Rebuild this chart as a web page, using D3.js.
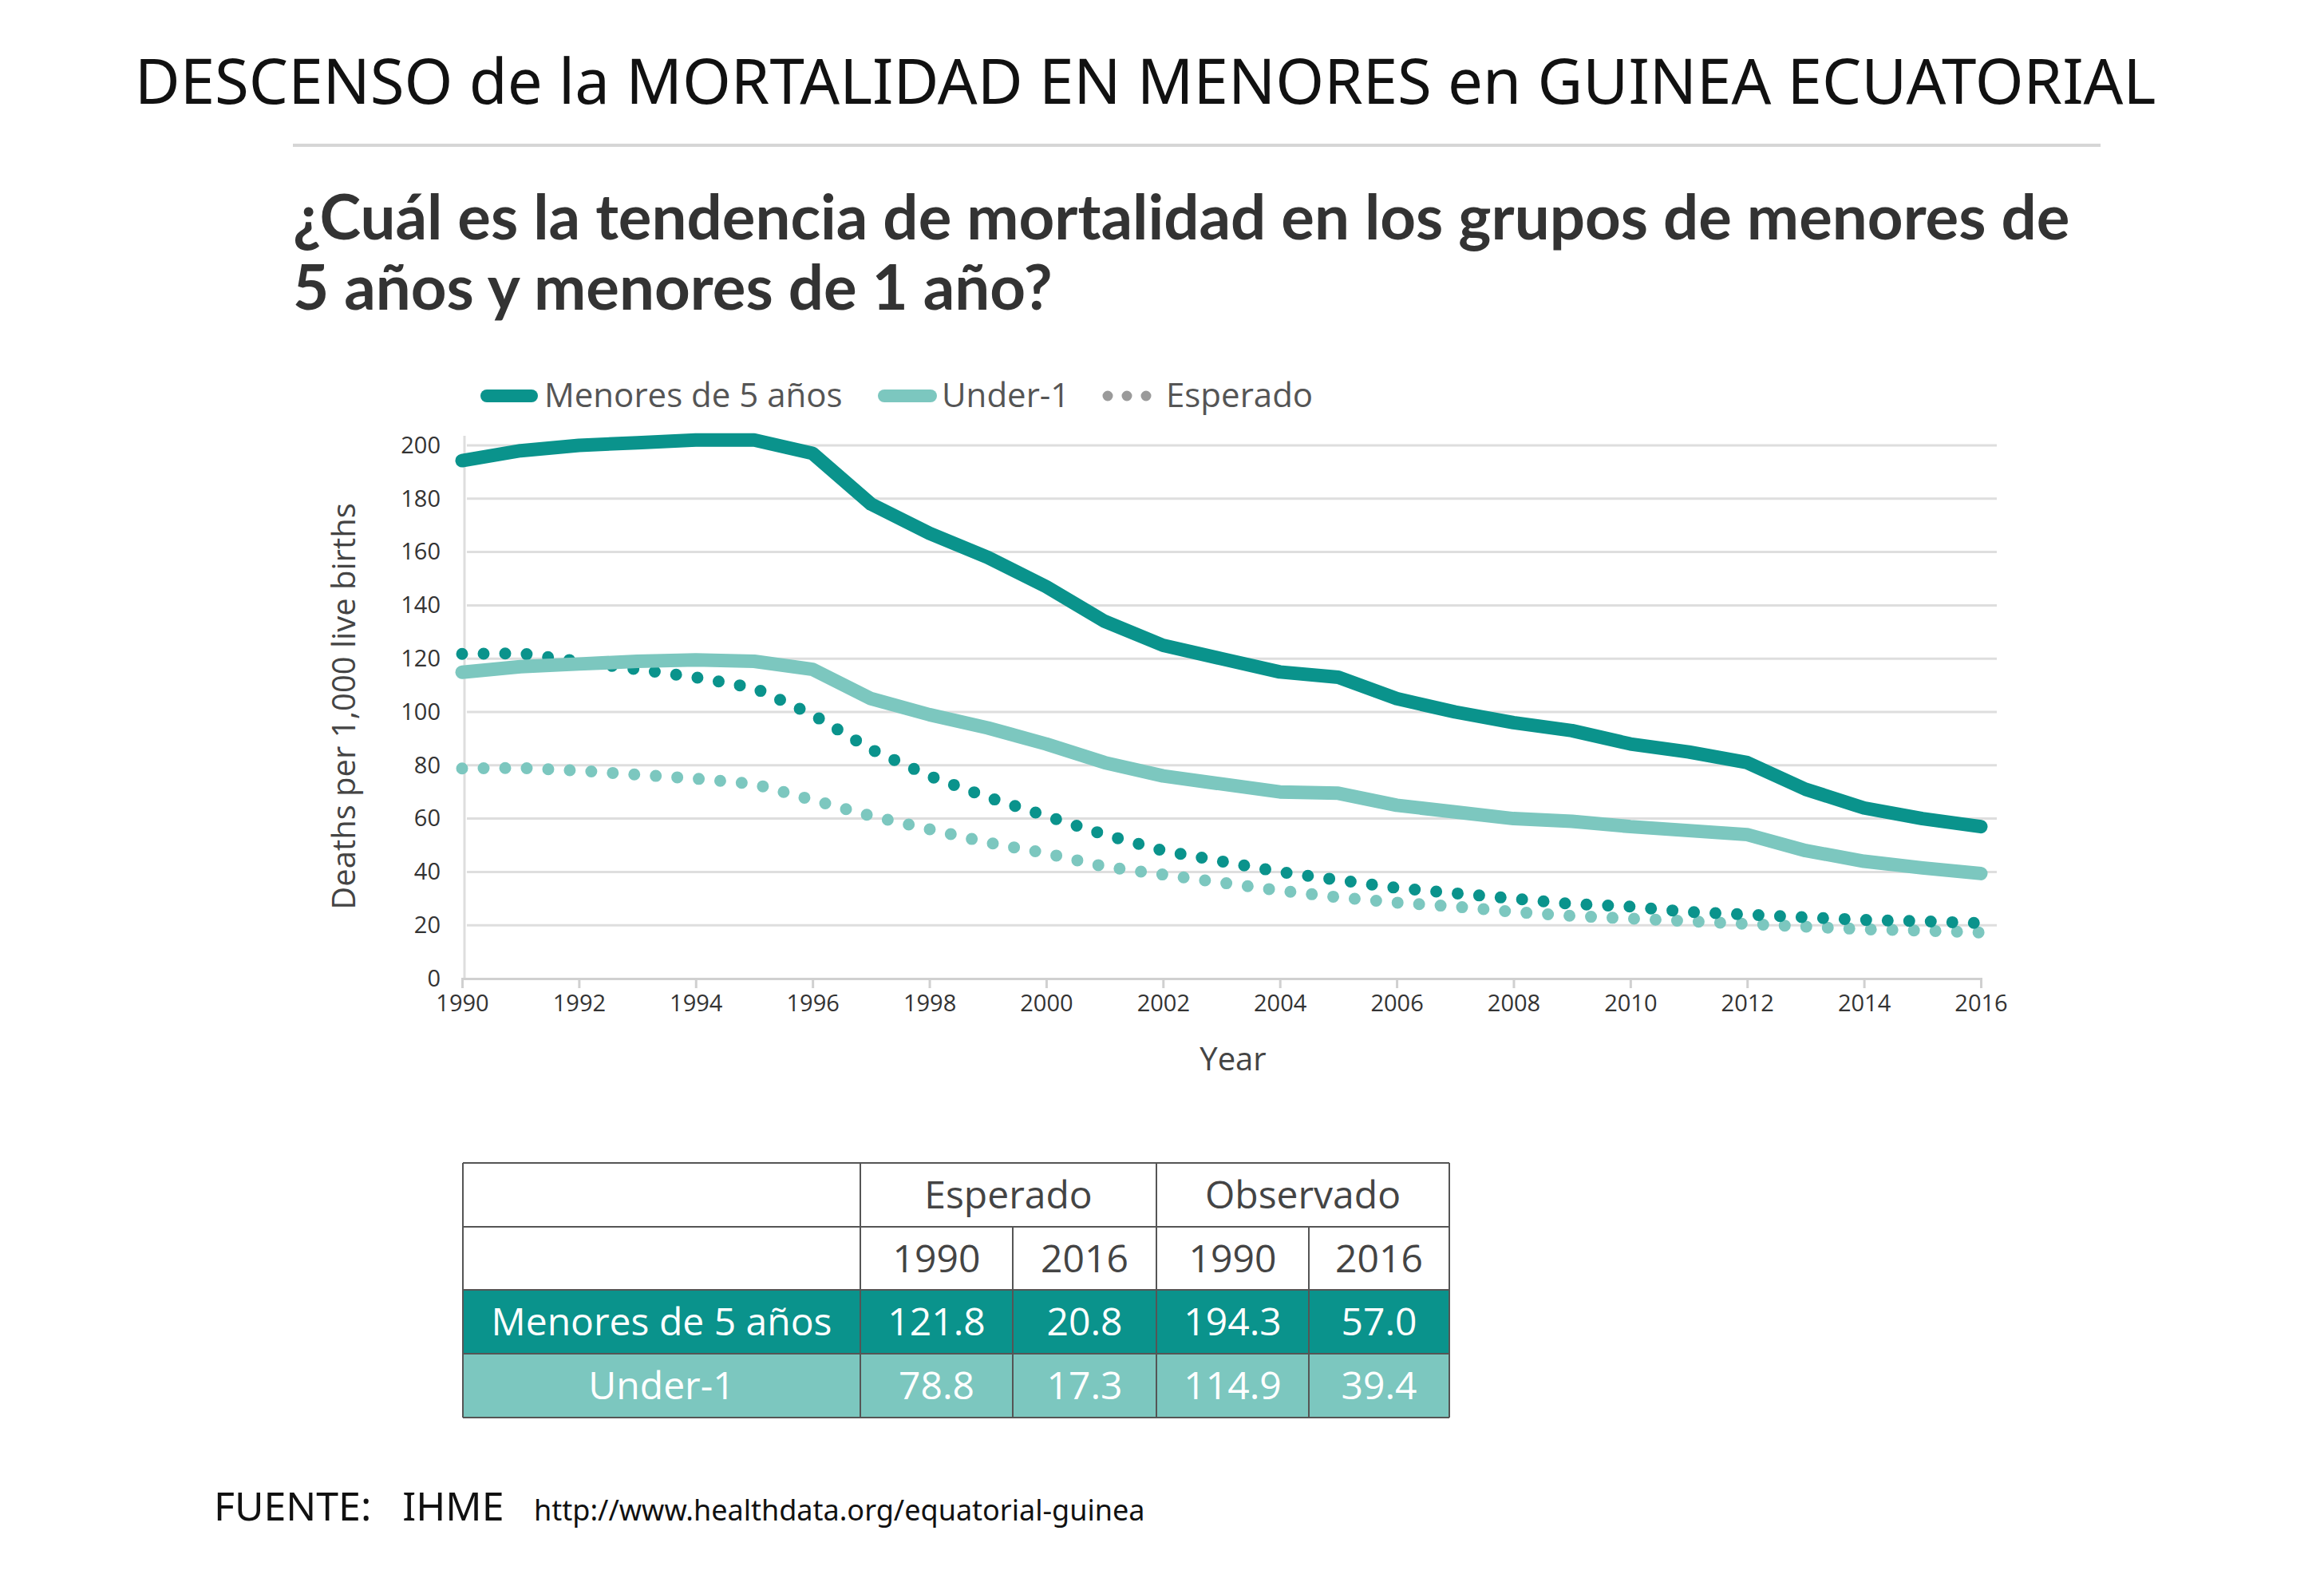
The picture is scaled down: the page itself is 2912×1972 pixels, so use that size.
<!DOCTYPE html>
<html>
<head>
<meta charset="utf-8">
<script src="https://cdn.jsdelivr.net/npm/d3@7"></script>
<style>
  body { margin: 0; background: #fff; }
  svg { display: block; font-family: "Open Sans", "Noto Sans", sans-serif; }
</style>
</head>
<body>
<svg id="chart" width="2912" height="1972"></svg>
<script>
var years = d3.range(1990, 2017);
var under5 = [194.3, 198, 200, 201, 202, 202, 197, 178, 167, 158, 147, 134, 125, 120, 115, 113,
              105, 100, 96, 93, 88, 85, 81, 71, 64, 60, 57.0];
var under1 = [114.9, 117, 118, 119, 119.5, 119, 116, 105, 99, 94, 88, 81, 76, 73, 70, 69.5,
              65, 62.5, 60, 59, 57, 55.5, 54, 48, 44, 41.5, 39.4];
var expected5 = [121.8, 122, 119, 116, 113, 109, 99, 86, 76, 68, 61, 54, 48, 44, 40, 37,
                 34, 32, 30, 28, 27, 25, 24, 23, 22, 21.5, 20.8];
var expected1 = [78.8, 79, 78, 76.5, 75, 73, 67, 61, 56, 51, 47, 42, 39, 36, 33, 30.5,
                 28.5, 27, 25, 23.5, 22.5, 21.5, 20.5, 19.5, 18.5, 18, 17.3];
var yTicks = [0, 20, 40, 60, 80, 100, 120, 140, 160, 180, 200];
var xTicks = d3.range(1990, 2017, 2);

// table
var tableHead1 = [["", 1], ["Esperado", 2], ["Observado", 2]];
var tableHead2 = ["", "1990", "2016", "1990", "2016"];
var tableRows = [
  ["Menores de 5 años", "121.8", "20.8", "194.3", "57.0"],
  ["Under-1", "78.8", "17.3", "114.9", "39.4"]
];

var dark = "#0a938c", light = "#7cc7bf";
var font = "'Open Sans', 'Noto Sans', sans-serif";
var svg = d3.select("#chart");

// page title
svg.append("text").attr("x", 1435).attr("y", 130).attr("text-anchor", "middle")
  .style("font-family", "'Noto Sans', sans-serif").style("font-size", "78px").attr("fill", "#111")
  .text("DESCENSO de la MORTALIDAD EN MENORES en GUINEA ECUATORIAL");
svg.append("line").attr("x1", 367).attr("x2", 2632).attr("y1", 182).attr("y2", 182)
  .attr("stroke", "#d6d6d6").attr("stroke-width", 4);

var sub = svg.append("text").attr("x", 367).style("font-family", "Lato, sans-serif")
  .style("font-size", "78px").style("font-weight", "bold").attr("fill", "#333");
sub.append("tspan").attr("x", 367).attr("y", 300).text("¿Cuál es la tendencia de mortalidad en los grupos de menores de");
sub.append("tspan").attr("x", 367).attr("y", 388).text("5 años y menores de 1 año?");

// chart
var x = d3.scaleLinear().domain([1990, 2016]).range([579, 2482]);
var y = d3.scaleLinear().domain([0, 200]).range([1226, 558]);

svg.append("g").selectAll("line").data(yTicks.slice(1)).enter().append("line")
  .attr("x1", 585).attr("x2", 2502).attr("y1", d => y(d)).attr("y2", d => y(d))
  .attr("stroke", "#dedede").attr("stroke-width", 3);
svg.append("line").attr("x1", 582).attr("x2", 582).attr("y1", 546).attr("y2", y(0))
  .attr("stroke", "#dedede").attr("stroke-width", 3);

var xAxis = svg.append("g").attr("transform", "translate(0," + y(0) + ")")
  .call(d3.axisBottom(x).tickValues(xTicks).tickFormat(d3.format("d")).tickSize(12).tickPadding(8));
xAxis.select(".domain").attr("stroke", "#d0d0d0").attr("stroke-width", 3);
xAxis.selectAll(".tick line").attr("stroke", "#d0d0d0").attr("stroke-width", 3);
xAxis.selectAll("text").style("font-family", font).style("font-size", "29px").attr("fill", "#333");

var yAxis = svg.append("g").attr("transform", "translate(552,0)")
  .call(d3.axisLeft(y).tickValues(yTicks).tickSize(0).tickPadding(0));
yAxis.select(".domain").remove();
yAxis.selectAll("text").style("font-family", font).style("font-size", "29px").attr("fill", "#333");

svg.append("text").attr("transform", "translate(445,885) rotate(-90)").attr("text-anchor", "middle")
  .style("font-size", "40px").attr("fill", "#444").text("Deaths per 1,000 live births");
svg.append("text").attr("x", 1545).attr("y", 1341).attr("text-anchor", "middle")
  .style("font-size", "40px").attr("fill", "#444").text("Year");

var line = d3.line().x((d, i) => x(years[i])).y(d => y(d));
function drawDots(data, color) {
  svg.append("path").datum(data).attr("d", line).attr("fill", "none").attr("stroke", color)
    .attr("stroke-width", 15).attr("stroke-linecap", "round").attr("stroke-dasharray", "0 27");
}
drawDots(expected1, light);
drawDots(expected5, dark);
[[under1, light], [under5, dark]].forEach(function(s) {
  svg.append("path").datum(s[0]).attr("d", line).attr("fill", "none").attr("stroke", s[1])
    .attr("stroke-width", 17).attr("stroke-linejoin", "round").attr("stroke-linecap", "round");
});

// legend
var lg = svg.append("g").style("font-size", "42px").attr("fill", "#555");
lg.append("line").attr("x1", 610).attr("x2", 666).attr("y1", 496).attr("y2", 496)
  .attr("stroke", dark).attr("stroke-width", 16).attr("stroke-linecap", "round");
lg.append("text").attr("x", 682).attr("y", 510).text("Menores de 5 años");
lg.append("line").attr("x1", 1108).attr("x2", 1166).attr("y1", 496).attr("y2", 496)
  .attr("stroke", light).attr("stroke-width", 16).attr("stroke-linecap", "round");
lg.append("text").attr("x", 1180).attr("y", 510).text("Under-1");
lg.append("line").attr("x1", 1388).attr("x2", 1440).attr("y1", 496).attr("y2", 496)
  .attr("stroke", "#9a9a9a").attr("stroke-width", 13).attr("stroke-linecap", "round")
  .attr("stroke-dasharray", "0 24");
lg.append("text").attr("x", 1461).attr("y", 510).text("Esperado");

// table
var cols = [580, 1078, 1269, 1449, 1640, 1816];
var rows = [1457, 1537, 1616, 1696, 1776];
var tg = svg.append("g").style("font-size", "48px");
var rowFill = [dark, light];
tableRows.forEach(function(r, ri) {
  tg.append("rect").attr("x", cols[0]).attr("y", rows[ri + 2]).attr("width", cols[5] - cols[0])
    .attr("height", rows[ri + 3] - rows[ri + 2]).attr("fill", rowFill[ri]);
});
var ci = 0;
tableHead1.forEach(function(h) {
  var x0 = cols[ci], x1 = cols[ci + h[1]];
  tg.append("text").attr("x", (x0 + x1) / 2).attr("y", rows[0] + 57).attr("text-anchor", "middle")
    .attr("fill", "#444").text(h[0]);
  ci += h[1];
});
tableHead2.forEach(function(h, i) {
  tg.append("text").attr("x", (cols[i] + cols[i + 1]) / 2).attr("y", rows[1] + 57)
    .attr("text-anchor", "middle").attr("fill", "#444").text(h);
});
tableRows.forEach(function(r, ri) {
  r.forEach(function(v, i) {
    tg.append("text").attr("x", (cols[i] + cols[i + 1]) / 2).attr("y", rows[ri + 2] + 57)
      .attr("text-anchor", "middle").attr("fill", "#fff").text(v);
  });
});
rows.forEach(function(ry) {
  tg.append("line").attr("x1", cols[0]).attr("x2", cols[5]).attr("y1", ry).attr("y2", ry)
    .attr("stroke", "#555").attr("stroke-width", 2);
});
cols.forEach(function(cx, i) {
  var top = (i === 2 || i === 4) ? rows[1] : rows[0];
  tg.append("line").attr("x1", cx).attr("x2", cx).attr("y1", top).attr("y2", rows[4])
    .attr("stroke", "#555").attr("stroke-width", 2);
});

// source
svg.append("text").attr("x", 268).attr("y", 1905).style("font-family", "'Noto Sans', sans-serif")
  .style("font-size", "50px").attr("fill", "#111").attr("xml:space", "preserve").text("FUENTE:   IHME");
svg.append("text").attr("x", 669).attr("y", 1905).style("font-family", "'Noto Sans', sans-serif")
  .style("font-size", "36px").attr("fill", "#111").text("http://www.healthdata.org/equatorial-guinea");
</script>
</body>
</html>
